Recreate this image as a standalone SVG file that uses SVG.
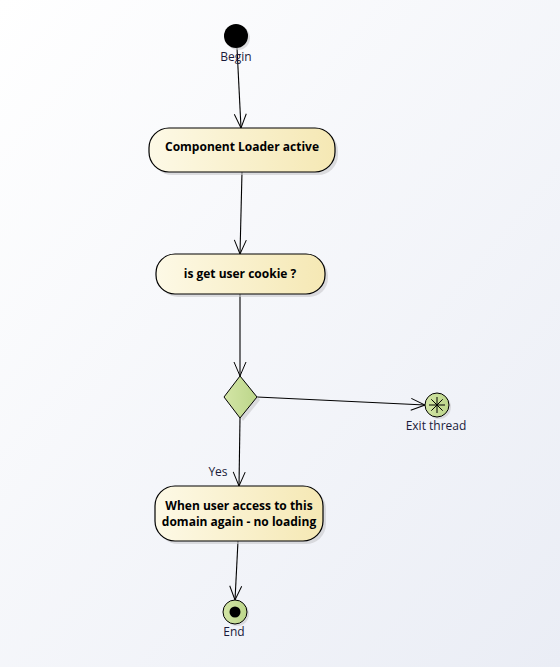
<svg xmlns="http://www.w3.org/2000/svg" width="560" height="667" viewBox="0 0 560 667">
<defs>
<linearGradient id="bg" x1="0" y1="0" x2="1" y2="1">
<stop offset="0" stop-color="#ffffff"/>
<stop offset="1" stop-color="#eaedf5"/>
</linearGradient>
<linearGradient id="act" x1="0" y1="0" x2="1" y2="0">
<stop offset="0" stop-color="#fdf9e6"/>
<stop offset="1" stop-color="#f5e8b4"/>
</linearGradient>
<linearGradient id="grn" x1="0" y1="0" x2="1" y2="0">
<stop offset="0" stop-color="#d3e5a6"/>
<stop offset="1" stop-color="#bcd68a"/>
</linearGradient>
<marker id="arr" markerWidth="16" markerHeight="14" refX="15" refY="7" orient="auto" markerUnits="userSpaceOnUse">
<path d="M1,1 L15,7 L1,13" fill="none" stroke="#000" stroke-width="1"/>
</marker>
</defs>
<style>
.act{fill:url(#act);stroke:#000;stroke-width:1.2}
.shadow{fill:#c8c8cc;opacity:0.6}
.t{font-family:"Open Sans","Liberation Sans",sans-serif;font-size:12px;font-weight:bold;fill:#000;text-anchor:middle}
.lbl{font-family:"Open Sans","Liberation Sans",sans-serif;font-size:12px;fill:#1a1a3a;text-anchor:middle}
.c{fill:none;stroke:#000;stroke-width:1.1;marker-end:url(#arr)}
.g{fill:url(#grn);stroke:#000;stroke-width:1}
</style>
<rect width="560" height="667" fill="url(#bg)"/>
<g id="connectors">
<path class="c" d="M237,48 L241,128"/>
<path class="c" d="M242,172 L240,254"/>
<path class="c" d="M240,294 L240,376"/>
<path class="c" d="M257,397 L425,405"/>
<path class="c" d="M240,418 L239,486"/>
<text class="lbl" x="218" y="476">Yes</text>
<path class="c" d="M238,541 L235,600"/>
</g>
<g id="begin">
<circle cx="238" cy="38" r="12" class="shadow"/>
<circle cx="236" cy="36" r="12" fill="#000"/>
<text class="lbl" x="236" y="61">Begin</text>
</g>
<g id="component-loader">
<rect x="152" y="131" width="186" height="44" rx="20" class="shadow"/>
<rect x="149" y="128" width="186" height="44" rx="20" class="act"/>
<text class="t" x="242" y="151">Component Loader active</text>
</g>
<g id="cookie">
<rect x="159" y="257" width="169" height="40" rx="19" class="shadow"/>
<rect x="156" y="254" width="169" height="40" rx="19" class="act"/>
<text class="t" x="240" y="278">is get user cookie ?</text>
</g>
<g id="decision">
<path d="M243,379 L260,400 L243,421 L227,400 Z" class="shadow"/>
<path d="M240,376 L257,397 L240,418 L224,397 Z" class="g"/>
</g>
<g id="exit-thread">
<circle cx="439" cy="407" r="12" class="shadow"/>
<circle cx="437" cy="405" r="12" class="g"/>
<path d="M437,397 L437,413 M429,405 L445,405 M431.3,399.3 L442.7,410.7 M442.7,399.3 L431.3,410.7" stroke="#000" stroke-width="1"/>
<text class="lbl" x="436" y="430">Exit thread</text>
</g>
<g id="no-loading">
<rect x="158" y="489" width="168" height="55" rx="20" class="shadow"/>
<rect x="155" y="486" width="168" height="55" rx="20" class="act"/>
<text class="t" x="239" y="510">When user access to this</text>
<text class="t" x="239" y="526">domain again - no loading</text>
</g>
<g id="end">
<circle cx="237" cy="614" r="12" class="shadow"/>
<circle cx="235" cy="612" r="12" class="g"/>
<circle cx="235" cy="612" r="5.5" fill="#000"/>
<text class="lbl" x="234" y="636">End</text>
</g>
</svg>
